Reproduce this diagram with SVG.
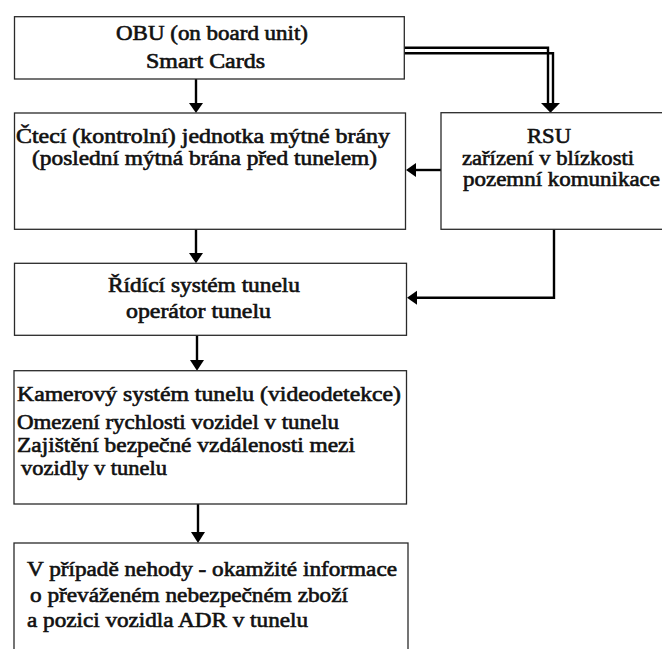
<svg xmlns="http://www.w3.org/2000/svg" width="662" height="649" viewBox="0 0 662 649">
<defs>
<style>
.box{fill:#fff;stroke:#2a2a2a;stroke-width:1.3}
text{font-family:'Liberation Serif','Times New Roman','DejaVu Serif',serif;font-size:20px;font-weight:normal;fill:#111;stroke:#111;stroke-width:0.6}
.c{fill:none;stroke:#000;stroke-width:2.4}
.ah{fill:#000}
</style>
</defs>
<rect width="662" height="649" fill="#fff"/>
<g id="connectors">
<path class="c" d="M196 79 V104"/>
<polygon class="ah" points="189,103 203,103 196,113"/>
<path class="c" d="M404 47.7 H548 V104"/>
<path class="c" d="M404 53.3 H553 V104"/>
<polygon class="ah" points="541,103 560,103 550.5,112.7"/>
<path class="c" d="M441 170 H415"/>
<polygon class="ah" points="416,163 416,177 406,170"/>
<path class="c" d="M196 229.3 V254"/>
<polygon class="ah" points="189,253 203,253 196,263.3"/>
<path class="c" d="M554 229.3 V297.7 H416"/>
<polygon class="ah" points="417,290.7 417,304.7 407,297.7"/>
<path class="c" d="M197 335.3 V361"/>
<polygon class="ah" points="190,360 204,360 197,370.7"/>
<path class="c" d="M198 504 V533"/>
<polygon class="ah" points="191,532 205,532 198,543"/>
</g>
<g id="obu">
<rect class="box" x="14.5" y="16.7" width="389.8" height="62.3"/>
<text x="116" y="40" textLength="192" lengthAdjust="spacingAndGlyphs">OBU (on board unit)</text>
<text x="146" y="68" textLength="119" lengthAdjust="spacingAndGlyphs">Smart Cards</text>
</g>
<g id="cteci">
<rect class="box" x="14.5" y="113" width="391" height="116.3"/>
<text x="16" y="143" textLength="374" lengthAdjust="spacingAndGlyphs">Čtecí (kontrolní) jednotka mýtné brány</text>
<text x="32" y="165" textLength="345" lengthAdjust="spacingAndGlyphs">(poslední mýtná brána před tunelem)</text>
</g>
<g id="rsu">
<rect class="box" x="441" y="112.7" width="230" height="116.6"/>
<text x="527" y="143" textLength="44" lengthAdjust="spacingAndGlyphs">RSU</text>
<text x="462" y="165" textLength="172" lengthAdjust="spacingAndGlyphs">zařízení v blízkosti</text>
<text x="463" y="186" textLength="197" lengthAdjust="spacingAndGlyphs">pozemní komunikace</text>
</g>
<g id="ridici">
<rect class="box" x="14.5" y="263.3" width="392" height="72"/>
<text x="108" y="292" textLength="192" lengthAdjust="spacingAndGlyphs">Řídící systém tunelu</text>
<text x="126" y="318" textLength="145" lengthAdjust="spacingAndGlyphs">operátor tunelu</text>
</g>
<g id="kamera">
<rect class="box" x="14" y="370.7" width="392.5" height="133.3"/>
<text x="17" y="401" textLength="384" lengthAdjust="spacingAndGlyphs">Kamerový systém tunelu (videodetekce)</text>
<text x="17" y="429" textLength="322" lengthAdjust="spacingAndGlyphs">Omezení rychlosti vozidel v tunelu</text>
<text x="17" y="452" textLength="338" lengthAdjust="spacingAndGlyphs">Zajištění bezpečné vzdálenosti mezi</text>
<text x="21" y="475" textLength="146" lengthAdjust="spacingAndGlyphs">vozidly v tunelu</text>
</g>
<g id="nehoda">
<rect class="box" x="14" y="543" width="394" height="120"/>
<text x="27" y="576" textLength="370" lengthAdjust="spacingAndGlyphs">V případě nehody - okamžité informace</text>
<text x="30" y="602" textLength="318" lengthAdjust="spacingAndGlyphs">o převáženém nebezpečném zboží</text>
<text x="27" y="627" textLength="281" lengthAdjust="spacingAndGlyphs">a pozici vozidla ADR v tunelu</text>
</g>
</svg>
